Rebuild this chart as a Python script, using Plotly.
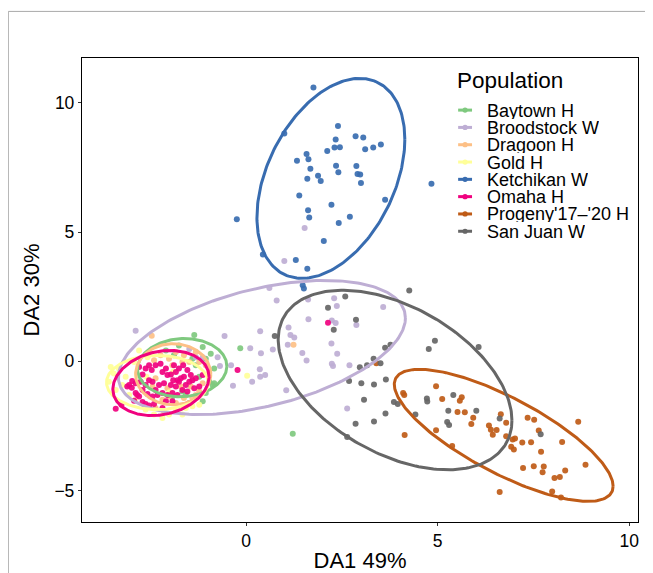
import numpy as np
import plotly.graph_objects as go

populations = ["Baytown H", "Broodstock W", "Dragoon H", "Gold H",
               "Ketchikan W", "Omaha H", "Progeny'17\u2013'20 H", "San Juan W"]
colors = ["#7FC97F", "#BEAED4", "#FDC086", "#FFFF99",
          "#386CB0", "#F0027F", "#BF5B17", "#666666"]

baytown_x = [-1.35, -1.13, -0.92, -0.83, -0.96, -1.05, -1.31, -1.57, -1.66, -1.88, -2.09, -1.31,
             -1.22, -1.40, -1.75, -1.05, -0.87, -1.48, -1.13, -1.92, -0.15, 1.22, -0.83]
baytown_y = [1.02, 0.55, 0.29, -0.28, -0.79, -1.23, -1.36, -1.30, -1.17, 0.23, 0.42, -0.15,
             -0.60, 0.10, 0.61, 0.10, -0.92, -1.61, -1.55, -1.36, 0.51, -2.80, -0.85]

broodstock_x = [1.53, 1.00, 0.61, 0.80, 1.62, 2.30, 2.37, 3.58, 1.63, 1.11, 2.24, 2.34, 2.88,
                0.37, -0.56, 1.16, 1.26, 1.09, 0.11, 0.70, 0.39, 1.47, 2.23, 1.58, 2.38, -0.39,
                0.36, 2.24, 2.27, 2.70, 0.50, 0.37, 0.16, -0.34, 1.05, 2.64, -0.74, -0.68, -2.88,
                -1.48, -1.13, -1.31, -1.40]
broodstock_y = [5.16, 3.88, 2.84, 2.35, 2.39, 2.44, 2.14, 2.10, 1.63, 1.31, 1.58, 1.48, 1.41,
                1.16, 0.98, 1.02, 0.92, 0.64, 0.51, 0.46, 0.31, 0.32, 0.69, 0.03, 0.29, -0.15,
                -0.31, -0.09, -0.18, -0.15, -0.53, -0.60, -0.79, -0.95, -1.12, -1.83, 0.16, -0.18, 1.18,
                0.48, 0.16, 0.16, -0.73]

dragoon_x = [-2.40, -2.23, -2.01, -1.83, -1.62, -1.31, -1.22, -1.05, -0.96, -1.13, -1.22, -1.40,
             -1.62, -1.83, -2.01, -2.18, -2.36, -2.44, -1.66, -1.48, -1.92, -2.05, -1.70, -1.44,
             -1.31, -2.36, -2.14, -2.46, 1.24]
dragoon_y = [0.04, 0.23, 0.10, 0.36, 0.23, 0.36, -0.03, -0.15, -0.41, -0.85, -1.17, -1.42,
             -1.42, -1.61, -1.36, -1.49, -0.66, -0.98, -0.03, -0.03, -0.15, -1.04, -0.98, -0.98,
             -1.30, -1.81, -1.93, 0.99, 0.64]

gold_x = [-3.53, -3.45, -3.32, -3.14, -3.23, -3.05, -2.84, -2.62, -2.40, -2.01, -1.83, -1.57,
          -1.40, -1.22, -3.40, -3.58, -2.79, -2.57, -2.92, -1.66, -2.18, 0.03, -2.60, -2.00,
          -1.90, -2.90]
gold_y = [-0.22, -0.47, -0.28, -0.60, -0.92, -1.30, -0.53, -1.87, -2.06, -2.06, -1.93, -1.81,
          -1.74, -1.68, -1.11, -0.79, 0.42, 0.16, -0.03, -2.06, -2.19, -0.56, -0.60, -1.20,
          -0.40, -1.50]

ketchikan_x = [1.76, 1.00, 2.40, 2.34, 2.86, 3.06, 2.31, 2.45, 2.12, 3.11, 3.32, 3.52, 1.58, 1.63,
               1.33, 1.68, 2.35, 2.88, 2.41, 2.91, 2.98, 1.88, 1.95, 1.60, 3.00, 1.39, 2.23, 3.63,
               1.62, 1.65, 2.71, 2.42, -0.24, 2.03, 0.44, 1.30, 1.60, 1.48, 1.51, 4.84]
ketchikan_y = [10.60, 8.82, 9.11, 8.59, 8.71, 8.66, 8.28, 8.29, 8.14, 8.21, 8.28, 8.39, 8.02, 7.82,
               7.76, 7.45, 7.57, 7.56, 7.32, 7.25, 7.23, 7.18, 6.98, 7.07, 6.90, 6.42, 6.06, 6.25,
               5.85, 5.57, 5.60, 5.35, 5.50, 4.66, 4.13, 3.92, 3.58, 2.94, 2.82, 6.87]

omaha_x = [-3.10, -3.05, -2.98, -2.88, -2.84, -2.79, -2.92, -2.70, -2.62, -2.53, -2.40, -3.40,
           -3.25, -2.70, -2.62, -2.53, -2.46, -2.36, -2.23, -2.18, -2.09, -2.05, -1.96, -1.83,
           -1.75, -1.64, -1.53, -1.44, -1.40, -1.31, -1.48, -1.57, -1.75, -1.83, -1.96, -2.14,
           -2.27, -2.36, -2.44, -2.53, -2.62, -2.70, -2.31, -2.18, -2.05, -1.92, -1.79, -1.66,
           -1.53, -1.35, -1.22, -2.09, -1.92, -2.18, -2.44, -2.57, -2.88, -2.75, -2.97, -1.13,
           -2.79, -1.88, -1.62, -1.70, -1.79, -1.90, 2.14, -0.22]
omaha_y = [-0.98, -0.92, -1.02, -1.23, -1.30, -1.36, -1.53, -1.58, -1.65, -1.71, -1.65, -1.84,
           -1.68, -0.51, -0.28, -0.15, -0.34, -0.15, -0.09, -0.41, -0.28, -0.53, -0.51, -0.41,
           -0.28, -0.15, -0.34, -0.53, -0.73, -0.66, -0.79, -0.92, -0.79, -0.98, -0.92, -0.85,
           -0.92, -1.11, -0.79, -0.73, -0.92, -1.11, -1.30, -1.23, -1.30, -1.23, -1.30, -1.11,
           -1.17, -1.04, -0.98, -1.55, -1.55, -1.81, -1.36, -1.27, -0.85, -0.79, -0.76, -0.53,
           -0.22, -0.15, -0.60, -0.66, -0.73, -0.73, 1.49, -0.34]

progeny_x = [4.10, 4.13, 4.96, 5.12, 5.63, 5.58, 5.52, 5.71, 5.93, 5.88, 6.65, 6.79, 6.34, 6.39,
             6.54, 6.44, 6.79, 6.96, 7.02, 6.92, 6.99, 7.21, 7.44, 7.35, 7.52, 7.64, 7.70, 8.25,
             8.67, 8.86, 7.23, 7.51, 7.77, 7.74, 8.33, 8.05, 8.19, 7.99, 6.62, 4.96, 5.38, 4.14,
             8.22, 3.40]
progeny_y = [-1.23, -1.30, -0.97, -1.46, -1.39, -1.53, -1.96, -1.97, -2.18, -2.43, -2.05, -2.38,
             -2.48, -2.65, -2.66, -2.84, -2.90, -3.03, -2.99, -3.31, -3.41, -3.14, -3.13, -2.18,
             -2.26, -2.68, -3.50, -3.12, -2.34, -4.00, -4.13, -4.06, -4.07, -4.29, -4.23, -4.52,
             -4.48, -5.04, -5.06, -2.67, -3.28, -2.85, -5.27, -0.08]

sanjuan_x = [4.26, 2.59, 2.14, 2.87, 2.29, 0.75, 4.93, 4.77, 3.63, 3.77, 3.33, 2.97, 3.16, 3.51,
             3.65, 2.69, 3.01, 3.34, 3.08, 3.86, 3.96, 3.64, 2.86, 3.34, 4.72, 4.73, 4.42, 2.64,
             6.07, 5.41, 5.28, 6.01, 5.25, 5.30, 6.62, 7.69]
sanjuan_y = [2.74, 2.51, 2.07, 1.61, 1.22, 0.98, 0.80, 0.48, 0.52, 0.64, 0.10, -0.23, -0.15, -0.08,
             -0.70, -0.76, -0.85, -0.90, -1.49, -1.58, -1.65, -2.02, -2.42, -2.33, -1.44, -1.56,
             -2.06, -2.93, 0.55, -1.30, -1.91, -1.91, -2.35, -2.47, -2.21, -2.82]

points_x = [baytown_x, broodstock_x, dragoon_x, gold_x, ketchikan_x, omaha_x, progeny_x, sanjuan_x]
points_y = [baytown_y, broodstock_y, dragoon_y, gold_y, ketchikan_y, omaha_y, progeny_y, sanjuan_y]

# ellipse parameters per population: centre, half-width, half-height, correlation
ell_cx = [-1.665, 0.415, -1.90, -2.315, 2.215, -2.22, 6.725, 3.89]
ell_cy = [-0.245, 0.535, -0.50, -0.82, 7.08, -0.84, -2.865, -0.725]
ell_rx = [1.165, 3.745, 0.98, 1.325, 1.93, 1.255, 2.855, 3.05]
ell_ry = [1.125, 2.595, 1.18, 1.05, 3.87, 1.26, 2.555, 3.475]
ell_r = [0.05, 0.44, 0.0, 0.0, 0.39, 0.19, -0.77, -0.45]

x_ticks = [0, 5, 10]
y_ticks = [-5, 0, 5, 10]

fig = go.Figure()

for i, name in enumerate(populations):
    fig.add_trace(go.Scatter(
        x=points_x[i], y=points_y[i], mode="markers",
        marker=dict(color=colors[i], size=6, opacity=0.92, line=dict(width=0)),
        name=name, showlegend=False, hoverinfo="x+y+name"))

t = np.linspace(0, 2 * np.pi, 240)
for i, name in enumerate(populations):
    r = ell_r[i]
    ex = ell_cx[i] + ell_rx[i] * np.cos(t)
    ey = ell_cy[i] + ell_ry[i] * (r * np.cos(t) + np.sqrt(1 - r * r) * np.sin(t))
    fig.add_trace(go.Scatter(
        x=ex, y=ey, mode="lines", line=dict(color=colors[i], width=3),
        name=name, showlegend=False, hoverinfo="skip"))

font_family = "Liberation Sans, Arial, sans-serif"

# manual legend (paper coordinates)
annotations = [dict(text="Population", xref="paper", yref="paper", x=0.6715, y=0.951,
                    xanchor="left", yanchor="middle", showarrow=False,
                    font=dict(size=22.5, color="black", family=font_family))]
shapes = []
leg_top = 0.8877
leg_step = 0.0373
for i, name in enumerate(populations):
    yy = leg_top - i * leg_step
    annotations.append(dict(text=name, xref="paper", yref="paper", x=0.7245, y=yy,
                            xanchor="left", yanchor="middle", showarrow=False, height=17,
                            font=dict(size=18, color="black", family=font_family)))
    shapes.append(dict(type="line", xref="paper", yref="paper", x0=0.6765, x1=0.7015,
                       y0=yy, y1=yy, line=dict(color=colors[i], width=3)))
    shapes.append(dict(type="circle", xref="paper", yref="paper", xsizemode="pixel",
                       ysizemode="pixel", xanchor=0.689, yanchor=yy, x0=-2.6, x1=2.6,
                       y0=-2.6, y1=2.6, fillcolor=colors[i], line=dict(width=0)))

# thin grey frame at top/left edge of the image
shapes.append(dict(type="line", xref="paper", yref="paper", x0=-0.1325, y0=1.1004, x1=1.2,
                   y1=1.1004, line=dict(color="#aaaaaa", width=1)))
shapes.append(dict(type="line", xref="paper", yref="paper", x0=-0.1325, y0=1.1004, x1=-0.1325,
                   y1=-0.2, line=dict(color="#aaaaaa", width=1)))

fig.update_layout(
    width=653, height=573,
    margin=dict(l=74, r=23, t=50, b=51),
    paper_bgcolor="white", plot_bgcolor="white",
    font=dict(family=font_family, color="black"),
    showlegend=False,
    xaxis=dict(
        range=[-4.28, 10.23], tickvals=x_ticks,
        showgrid=False, zeroline=False, showline=True, linecolor="black", linewidth=1.3,
        mirror=True, ticks="outside", ticklen=3, tickcolor="#333333", tickwidth=1,
        tickfont=dict(size=17.5, color="black"),
        title=dict(text="DA1 49%", font=dict(size=22, color="black"), standoff=2)),
    yaxis=dict(
        range=[-6.22, 11.74], tickvals=y_ticks,
        showgrid=False, zeroline=False, showline=True, linecolor="black", linewidth=1.3,
        mirror=True, ticks="outside", ticklen=3, tickcolor="#333333", tickwidth=1,
        tickfont=dict(size=17.5, color="black"),
        title=dict(text="DA2 30%", font=dict(size=22, color="black"), standoff=8)),
    annotations=annotations,
    shapes=shapes,
)

fig.write_html("out.html")
